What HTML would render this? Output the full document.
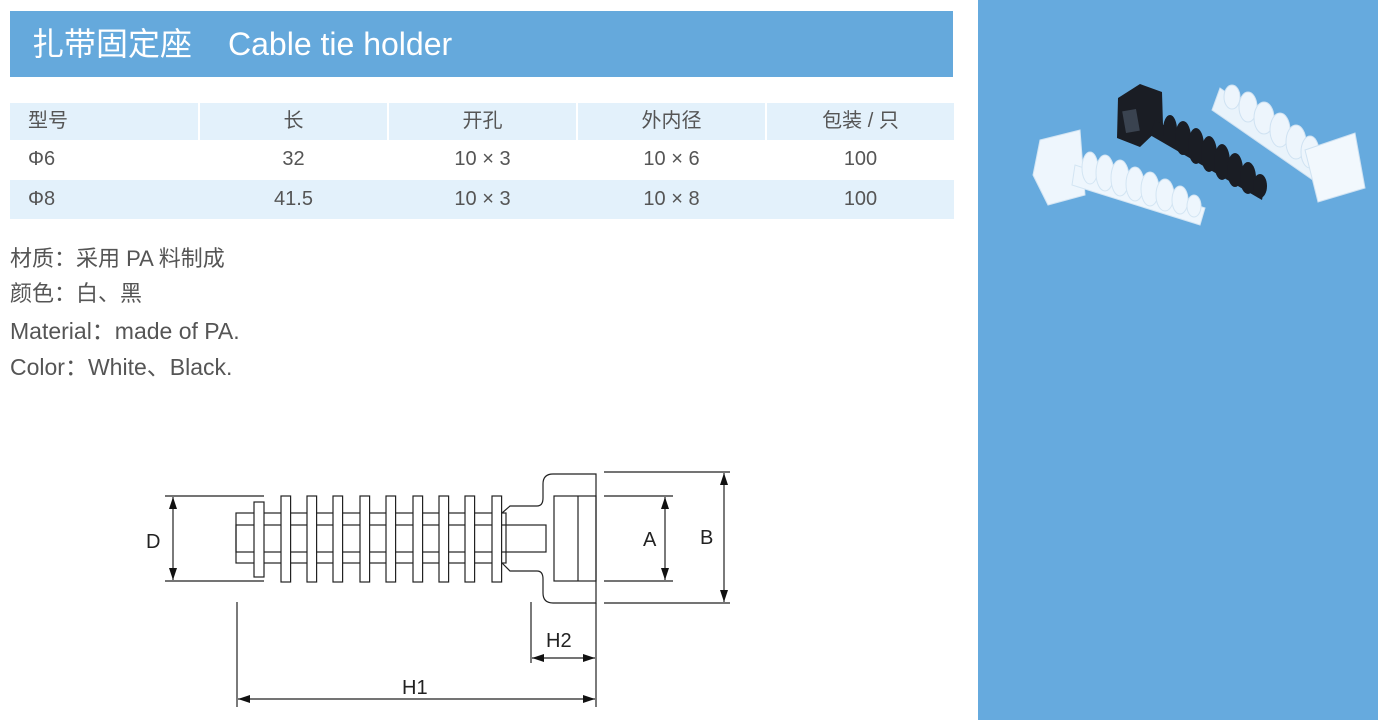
<!DOCTYPE html>
<html><head><meta charset="utf-8"><style>
body{margin:0;width:1378px;height:720px;background:#fff;position:relative;overflow:hidden;font-family:"Liberation Sans","Noto Sans CJK SC",sans-serif;color:#4a4a4a}
.abs{position:absolute}
#hdr{left:10px;top:11px;width:943px;height:66px;background:#65a9dc;color:#fff;font-size:32px;line-height:66px}
#right{left:978px;top:0;width:400px;height:720px;background:#66aade}
.c{position:absolute;height:37px;line-height:37px;text-align:center;font-size:20px;color:#555}
.txt{position:absolute;left:10px;font-size:23px;color:#555;white-space:nowrap}
</style></head><body>
<div id="hdr" class="abs"><span style="margin-left:22px">扎带固定座</span><span style="margin-left:36px">Cable tie holder</span></div>
<div id="right" class="abs"></div>

<div class="abs" style="left:10px;top:103px;width:944px;height:37px;background:#e3f1fb"></div>
<div class="abs" style="left:198px;top:103px;width:2px;height:37px;background:#fff"></div>
<div class="abs" style="left:387px;top:103px;width:2px;height:37px;background:#fff"></div>
<div class="abs" style="left:576px;top:103px;width:2px;height:37px;background:#fff"></div>
<div class="abs" style="left:765px;top:103px;width:2px;height:37px;background:#fff"></div>
<div class="abs" style="left:10px;top:180px;width:944px;height:39px;background:#e3f1fb"></div>

<div class="c" style="left:28px;top:103px;text-align:left">型号</div>
<div class="c" style="left:200px;top:103px;width:187px">长</div>
<div class="c" style="left:389px;top:103px;width:187px">开孔</div>
<div class="c" style="left:578px;top:103px;width:187px">外内径</div>
<div class="c" style="left:767px;top:103px;width:187px">包装 / 只</div>

<div class="c" style="left:28px;top:141px;text-align:left">Φ6</div>
<div class="c" style="left:200px;top:141px;width:187px">32</div>
<div class="c" style="left:389px;top:141px;width:187px">10 × 3</div>
<div class="c" style="left:578px;top:141px;width:187px">10 × 6</div>
<div class="c" style="left:767px;top:141px;width:187px">100</div>

<div class="c" style="left:28px;top:181px;text-align:left">Φ8</div>
<div class="c" style="left:200px;top:181px;width:187px">41.5</div>
<div class="c" style="left:389px;top:181px;width:187px">10 × 3</div>
<div class="c" style="left:578px;top:181px;width:187px">10 × 8</div>
<div class="c" style="left:767px;top:181px;width:187px">100</div>

<div class="txt" style="top:241px;font-size:22px">材质：采用 PA 料制成</div>
<div class="txt" style="top:276px;font-size:22px">颜色：白、黑</div>
<div class="txt" style="top:312px">Material：made of PA.</div>
<div class="txt" style="top:348px">Color：White、Black.</div>

<svg class="abs" style="left:0;top:0" width="978" height="720" viewBox="0 0 978 720">
<defs><marker id="ar" markerWidth="12" markerHeight="8" refX="12" refY="4" orient="auto" markerUnits="userSpaceOnUse"><path d="M0,0 L12,4 L0,8 z" fill="#111"/></marker></defs>
<g stroke="#222" stroke-width="1.2" fill="none">
<line x1="165" y1="496" x2="264" y2="496"/><line x1="165" y1="581" x2="264" y2="581"/>
<line x1="173" y1="538" x2="173" y2="497" marker-end="url(#ar)"/><line x1="173" y1="538" x2="173" y2="580" marker-end="url(#ar)"/>
<rect x="236" y="513" width="270" height="50"/>
<rect x="236" y="525" width="310" height="27"/>
<rect x="254" y="502" width="10" height="75" fill="#fff"/>
<g fill="#fff">
<rect x="281" y="496" width="9.6" height="86"/><rect x="307" y="496" width="9.6" height="86"/><rect x="333" y="496" width="9.6" height="86"/><rect x="360" y="496" width="9.6" height="86"/><rect x="386" y="496" width="9.6" height="86"/><rect x="413" y="496" width="9.6" height="86"/><rect x="439" y="496" width="9.6" height="86"/><rect x="465" y="496" width="9.6" height="86"/><rect x="492" y="496" width="9.6" height="86"/>
</g>
<path d="M502,513 L510,506 L537,506 Q543,506 543,498 L543,484 Q543,474 553,474 L596,474 L596,603 L553,603 Q543,603 543,593 L543,579 Q543,571 537,571 L510,571 L502,563"/>
<rect x="554" y="496" width="42" height="85"/>
<line x1="578" y1="496" x2="578" y2="581"/>
<line x1="604" y1="496" x2="673" y2="496"/><line x1="604" y1="581" x2="673" y2="581"/>
<line x1="665" y1="538" x2="665" y2="497" marker-end="url(#ar)"/><line x1="665" y1="538" x2="665" y2="580" marker-end="url(#ar)"/>
<line x1="604" y1="472" x2="730" y2="472"/><line x1="604" y1="603" x2="730" y2="603"/>
<line x1="724" y1="538" x2="724" y2="473" marker-end="url(#ar)"/><line x1="724" y1="538" x2="724" y2="602" marker-end="url(#ar)"/>
<line x1="237" y1="602" x2="237" y2="707"/><line x1="596" y1="603" x2="596" y2="707"/>
<line x1="416" y1="699" x2="238" y2="699" marker-end="url(#ar)"/><line x1="416" y1="699" x2="595" y2="699" marker-end="url(#ar)"/>
<line x1="531" y1="602" x2="531" y2="663"/>
<line x1="563" y1="658" x2="532" y2="658" marker-end="url(#ar)"/><line x1="563" y1="658" x2="595" y2="658" marker-end="url(#ar)"/>
</g>
<g font-family="Liberation Sans, sans-serif" font-size="20" fill="#222">
<text x="146" y="548">D</text><text x="643" y="546">A</text><text x="700" y="544">B</text>
<text x="546" y="647">H2</text><text x="402" y="694">H1</text>
</g>
</svg>

<svg class="abs" style="left:978px;top:0" width="400" height="720" viewBox="978 0 400 720">
<g fill="#e9f3fb" stroke="#cfe2f2" stroke-width="1">
<path d="M1220,88 L1330,165 L1320,185 L1212,110 Z"/>
<g fill="#edf5fc"><ellipse cx="1232" cy="97" rx="8" ry="12"/><ellipse cx="1248" cy="107" rx="9" ry="15"/><ellipse cx="1264" cy="118" rx="10" ry="16"/><ellipse cx="1280" cy="130" rx="10" ry="17"/><ellipse cx="1296" cy="142" rx="10" ry="17"/><ellipse cx="1310" cy="152" rx="9" ry="16"/></g>
<path d="M1305,150 L1355,133 L1365,188 L1318,202 Z" fill="#f2f8fd"/>
</g>
<g fill="#1a1d24">
<path d="M1118,98 L1140,84 L1162,92 L1163,125 L1140,147 L1117,138 Z"/>
<path d="M1155,120 L1265,185 L1262,200 L1150,135 Z"/>
<ellipse cx="1170" cy="130" rx="7" ry="15"/><ellipse cx="1183" cy="138" rx="8" ry="17"/><ellipse cx="1196" cy="146" rx="8" ry="18"/><ellipse cx="1209" cy="154" rx="8" ry="18"/><ellipse cx="1222" cy="162" rx="8" ry="18"/><ellipse cx="1235" cy="170" rx="8" ry="17"/><ellipse cx="1248" cy="178" rx="8" ry="16"/><ellipse cx="1260" cy="186" rx="7" ry="12"/>
</g>
<rect x="1124" y="110" width="14" height="22" fill="#3a4350" transform="rotate(-10 1131 121)"/>
<g fill="#eef6fd" stroke="#d3e5f3" stroke-width="1">
<path d="M1040,140 L1080,130 L1085,195 L1048,205 L1033,175 Z"/>
<path d="M1075,165 L1205,208 L1200,225 L1072,185 Z"/>
<g><ellipse cx="1090" cy="168" rx="8" ry="16"/><ellipse cx="1105" cy="173" rx="9" ry="18"/><ellipse cx="1120" cy="178" rx="9" ry="18"/><ellipse cx="1135" cy="184" rx="9" ry="17"/><ellipse cx="1150" cy="189" rx="9" ry="17"/><ellipse cx="1165" cy="195" rx="9" ry="16"/><ellipse cx="1180" cy="200" rx="8" ry="14"/><ellipse cx="1194" cy="206" rx="7" ry="11"/></g>
</g>
</svg>
</body></html>
